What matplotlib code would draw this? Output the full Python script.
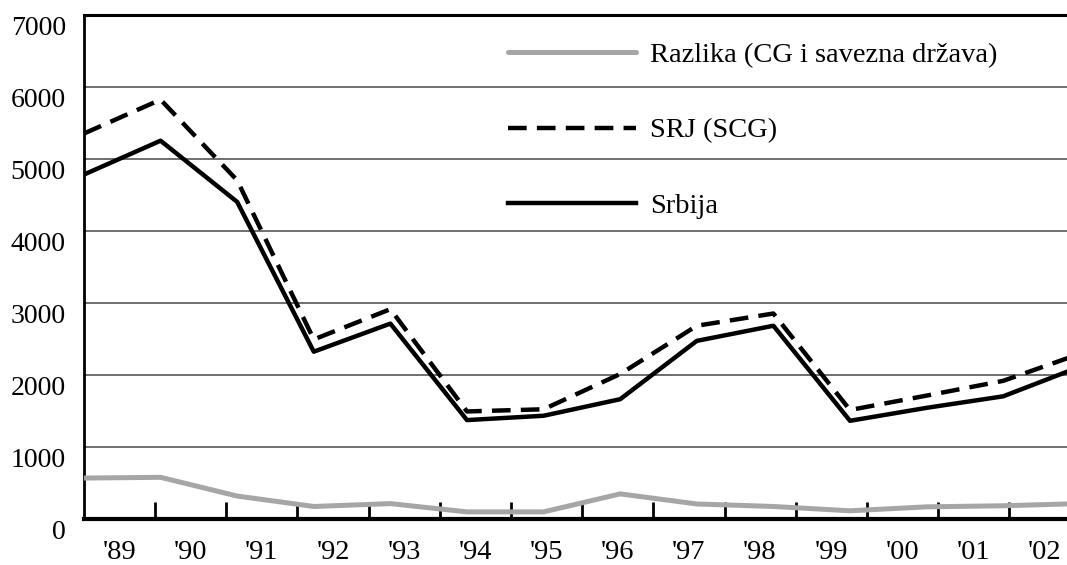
import matplotlib
matplotlib.use("Agg")
import matplotlib.pyplot as plt
from matplotlib.lines import Line2D
from matplotlib.transforms import ScaledTranslation
import numpy as np

# values
years = ["'89", "'90", "'91", "'92", "'93", "'94", "'95",
         "'96", "'97", "'98", "'99", "'00", "'01", "'02"]
srbija = [4780, 5250, 4400, 2320, 2710, 1370, 1430,
          1660, 2470, 2680, 1360, 1540, 1700, 2110]
srj = [5350, 5820, 4700, 2490, 2910, 1490, 1520,
       2010, 2680, 2850, 1510, 1710, 1915, 2290]
razlika = [565, 575, 315, 170, 210, 95, 95,
           345, 205, 170, 110, 165, 180, 210]
y_ticks = [0, 1000, 2000, 3000, 4000, 5000, 6000, 7000]

labels = ["Razlika (CG i savezna država)", "SRJ (SCG)", "Srbija"]

plt.rcParams["font.family"] = ["Liberation Serif", "DejaVu Serif"]
fs = 20.5
dark = "#000000"
grey = "#a6a6a6"

fig = plt.figure(figsize=(10.67, 5.65), dpi=100)
ax = fig.add_axes([0.0787, 0.0819, 1 - 0.0787, 0.974 - 0.0819])

# category axis (ticks between categories, labels centred)
n = len(years)
ax.set_xlim(0, 983 / 71.17)
ax.set_ylim(0, 7000)
ax.set_xticks(np.arange(1, n))
ax.set_xticklabels([])
ax.set_xticks(np.arange(n) + 0.5, minor=True)
ax.set_xticklabels(years, minor=True, fontsize=fs)
ax.tick_params(axis="x", which="major", direction="in", length=12, width=2, color=dark)
ax.tick_params(axis="x", which="minor", length=0, pad=15)
ax.set_yticks(y_ticks)
ax.set_yticklabels([str(v) for v in y_ticks], fontsize=fs - 0.5)
ax.tick_params(axis="y", length=0, pad=13)
for lab in ax.get_yticklabels():
    lab.set_transform(lab.get_transform() + ScaledTranslation(0, -11 / 100, fig.dpi_scale_trans))

for v in y_ticks[1:-1]:
    ax.axhline(v, color="#555555", lw=1.2, zorder=1)
ax.spines["top"].set_linewidth(2.2)
ax.spines["left"].set_linewidth(2)
ax.spines["bottom"].set_linewidth(3)
ax.spines["right"].set_visible(False)

# data lines sit on their own x scale, as in the original
ax2 = ax.twiny()
ax2.set_xlim(0, 983 / 76.6)
ax2.set_ylim(0, 7000)
ax2.axis("off")
x = np.arange(n)
ax2.plot(x, razlika, color=grey, lw=3.6, solid_capstyle="butt", zorder=3)
ax2.plot(x, srj, color=dark, lw=3.2, dashes=(4.2, 2.3), zorder=4)
ax2.plot(x, srbija, color=dark, lw=3.2, zorder=5)

handles = [
    Line2D([], [], color=grey, lw=3.6, solid_capstyle="round"),
    Line2D([], [], color=dark, lw=3.2, dashes=(4.2, 2.3)),
    Line2D([], [], color=dark, lw=3.2),
]
fig.legend(handles, labels, loc="upper left", bbox_to_anchor=(508 / 1067, 0.926),
           frameon=False, fontsize=fs, handlelength=4.49, handletextpad=0.49,
           labelspacing=1.75, borderpad=0, borderaxespad=0)

fig.savefig("out.png", dpi=100)
